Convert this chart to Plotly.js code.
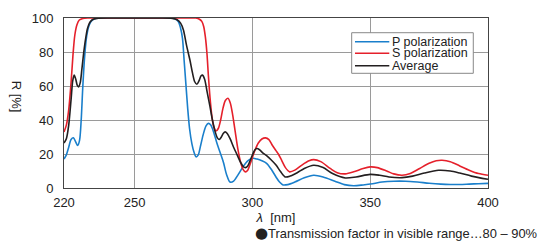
<!DOCTYPE html>
<html>
<head>
<meta charset="utf-8">
<script src="https://cdn.plot.ly/plotly-3.0.1.min.js"></script>
<style>html,body{margin:0;padding:0;background:#fff;}#chart{width:541px;height:244px;}</style>
</head>
<body>
<div id="chart"></div>
<script>
// P polarization
const pX = [220,221,222,223,224,225,225.8,226.6,227.3,228,228.8,229.6,230.5,231.5,233,235,240,250,260,265,267,268.5,269.5,270.3,271,271.7,272.5,273.3,274.3,275.2,276.1,277,278,279.2,280.3,281.3,282.3,283.5,285,286.5,287.7,289,290.5,292,294,296,298,300.2,302,304,306,308,310,311.5,313,315,318,322,326,330,335,339,343,347,351,355,360,365,370,375,380,384,388,392,396,400];
const pY = [17,19.5,24,28.5,29.5,27,25,28,40,60,78,89,95,98,99.5,100,100,100,100,100,99.5,98,94,88,75,62,47,35,26,21,18.3,19.5,25,32,36.5,38,37,33,26,20,15,8,3.5,4,8,12.5,16,17.5,17,16,14.5,11,6.5,3.5,1.8,2,3.5,6,7.5,6.5,4,2,1.3,1.8,2.5,3.5,4,4,3.5,2.8,2.3,2.1,2.1,2.3,2.5,2.7];
// S polarization
const sX = [220,221,222,223,223.8,224.6,225.5,226.5,228,230,250,270,276,277.5,278.5,279.3,280,280.7,281.3,282,282.8,283.6,284.5,285.5,286.5,287.5,288.5,289.6,290.6,291.6,292.7,293.8,295,296,297,298,299,300,301,302.5,304,305.5,307,308.5,310,311,312.5,314,315.8,318,321,324,326,329,333,336,339.4,343,347,350,353,357,360,363.5,367,371,375,378,380.5,384,388,392,396,400];
const sY = [33,37,46,62,78,90,96,98.8,99.7,100,100,100,100,99.3,98,95,89,79,66,53,42,36,33.5,35,40,47,51.5,52.8,50,43,33,23,15,11,9.5,10.5,14,18,22,26.5,28.8,29.5,28.5,25,22,20,16,12,9.5,10.5,13.5,16,16.7,15.5,11.5,9,8.3,9.5,11.5,12.4,12,10,8.3,7.5,8.5,11.5,14.5,16,16.3,15.5,13,10.5,8.5,7.5];
// Average
const aX = [220,221,222,223,223.7,224.3,225,225.6,226.2,226.9,227.6,228.4,229.2,230,231,232,234,240,260,266,268,269.5,270.7,272,273.5,274.5,275.5,276.4,277.3,278.2,278.8,279.7,280.7,282,283,284.2,285.1,285.9,286.8,287.6,288.4,289.3,290.5,292,293.5,295,296.2,297,298,299,300,301,301.9,303,304.5,306,308,310,312,313.9,316,319,322,326,330,334,339.4,344,350,354,358,363.5,368,373,379,384,388,393,400];
const aY = [26.5,29,37,52,63,66.4,64,60.5,59.5,62,70,80,88,94,97.5,99,99.8,100,100,99.8,99,97,93,84,75,68,62.5,61,63,66,66.4,64,57,47.7,40,33,29.5,28.5,30,32,33,32,29,24,19.5,15,12.5,12,13,16,19.5,22.3,23.2,22.5,20.5,19,16.5,13.5,9.5,6.5,7,9,11.5,13.4,12,8.5,5.9,6.5,8,7.5,6.5,6.1,7,8.8,10.4,10,8.8,7,5.1];
const seriesNames = ['P polarization','S polarization','Average'];
const seriesColors = ['#1a7fcb','#e5202b','#231f20'];
const xTicks = [220,250,300,350,400];
const yTicks = [0,20,40,60,80,100];

const font = "Liberation Sans, Arial, sans-serif";
const mk = (x,y,i)=>({x:x,y:y,name:seriesNames[i],type:'scatter',mode:'lines',
  line:{color:seriesColors[i],width:1.6,shape:'spline',smoothing:0.8},hoverinfo:'skip'});
const data = [mk(pX,pY,0), mk(sX,sY,1), mk(aX,aY,2)];

// compact legend drawn with shapes + text (paper coordinates)
const legRows = [0.8606,0.7924,0.7194];
const shapes = [{type:'rect',xref:'paper',yref:'paper',x0:0.6785,x1:0.9653,y0:0.6747,y1:0.9135,
  line:{color:'#888',width:1},fillcolor:'#fff',layer:'above'}];
const annotations = [];
seriesNames.forEach((n,i)=>{
  shapes.push({type:'line',xref:'paper',yref:'paper',x0:0.6863,x1:0.7672,y0:legRows[i],y1:legRows[i],
    line:{color:seriesColors[i],width:1.6},layer:'above'});
  annotations.push({xref:'paper',yref:'paper',x:0.7752,y:legRows[i],xanchor:'left',yanchor:'middle',
    showarrow:false,text:n,borderpad:0,font:{family:font,size:12.5,color:'#222'},xshift:-2});
});
annotations.push({xref:'paper',yref:'paper',x:1.118,y:-0.262,xanchor:'right',yanchor:'middle',showarrow:false,borderpad:0,
  text:'<span style="font-family:DejaVu Sans;font-size:15px">●</span>Transmission factor in visible range…80 – 90%',font:{family:font,size:12.9,color:'#222'}});
annotations.push({xref:'paper',yref:'paper',x:-0.11,y:0.535,xanchor:'center',yanchor:'middle',showarrow:false,
  textangle:90,text:'R [%]',font:{family:font,size:13,color:'#222'}});

const layout = {
  width:541,height:244,
  margin:{l:64,r:53,t:18,b:56},
  paper_bgcolor:'#fff',plot_bgcolor:'#fff',
  font:{family:font,size:13,color:'#222'},
  showlegend:false,
  xaxis:{range:[220,400],tickvals:xTicks,ticktext:xTicks.map(String),showgrid:true,gridcolor:'#9a9a9a',gridwidth:1,
    zeroline:false,showline:true,mirror:true,linecolor:'#444',linewidth:1,ticks:'',ticklen:0,ticklabelstandoff:2,
    tickfont:{family:font,size:13,color:'#222'},
    title:{text:'<i>λ</i>  [nm]',font:{family:font,size:13,color:'#222'},standoff:3}},
  yaxis:{range:[0,100],tickvals:yTicks,showgrid:true,gridcolor:'#9a9a9a',gridwidth:1,
    zeroline:false,showline:true,mirror:true,linecolor:'#444',linewidth:1,ticks:'',ticklen:0,ticklabelstandoff:7,
    tickfont:{family:font,size:13,color:'#222'}},
  shapes:shapes,
  annotations:annotations
};
Plotly.newPlot('chart',data,layout,{staticPlot:true,displayModeBar:false});
</script>
</body>
</html>
